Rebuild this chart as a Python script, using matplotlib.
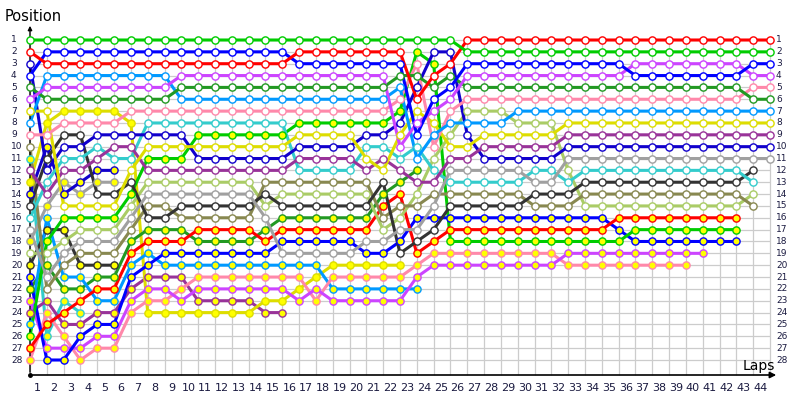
import matplotlib
matplotlib.use("Agg")
import matplotlib.pyplot as plt

# pixel geometry of the original chart
DX = 16.818   # px per lap
DY = 11.852   # px per position
X0, Y0 = 30, 40   # pixel of lap 0 / position 1

laps_total = 44
n_positions = 28

# colours
GREEN = '#00cc00'
RED = '#ff0000'
BLUE = '#0000ff'
VIOLET = '#cc44ff'
DKGREEN = '#229922'
LTBLUE = '#0099ff'
PINK = '#ff88aa'
YELLOW = '#dddd00'
PURPLE = '#993399'
DKBLUE = '#1100cc'
GREY = '#a0a0a0'
CYAN = '#33cccc'
DKGREY = '#333333'
OLIVE = '#888850'
LTGREEN = '#aacc66'

# positions per lap (lap 0 = grid), first class (white markers)
green_w = [1,1,1,1,1,1,1,1,1,1, 1,1,1,1,1,1,1,1,1,1, 1,1,1,1,1,1,2,2,2,2, 2,2,2,2,2,2,2,2,2,2, 2,2,2,2,2]
red_w = [2,3,3,3,3,3,3,3,3,3, 3,3,3,3,3,3,2,2,2,2, 2,2,2,6,4,3,1,1,1,1, 1,1,1,1,1,1,1,1,1,1, 1,1,1,1,1]
blue_w = [4,2,2,2,2,2,2,2,2,2, 2,2,2,2,2,2,3,3,3,3, 3,3,3,9,6,5,3,3,3,3, 3,3,3,3,3,3,4,4,4,4, 4,4,4,3,3]
violet_w = [6,5,5,5,5,5,5,5,5,4, 4,4,4,4,4,4,4,4,4,4, 4,4,10,8,7,6,4,4,4,4, 4,4,4,4,4,4,3,3,3,3, 3,3,3,4,4]
dkgreen_w = [5,6,6,6,6,6,6,6,6,5, 5,5,5,5,5,5,5,5,5,5, 5,5,4,4,5,4,5,5,5,5, 5,5,5,5,5,5,5,5,5,5, 5,5,5,6,6]
ltblue_w = [8,4,4,4,4,4,4,4,4,6, 6,6,6,6,6,6,6,6,6,6, 6,6,5,11,9,8,8,8,8,7, 7,7,7,7,7,7,7,7,7,7, 7,7,7,7,7]
pink_w = [9,9,8,8,8,8,7,7,7,7, 7,7,7,7,7,7,7,7,7,7, 7,7,6,3,10,7,6,6,6,6, 6,6,6,6,6,6,6,6,6,6, 6,6,6,5,5]
yellow_w = [7,7,15,15,15,15,12,10,10,10, 10,10,10,10,10,10,9,9,9,9, 11,12,9,7,8,10,10,9,9,9, 9,9,8,8,8,8,8,8,8,8, 8,8,8,8,8]
purple_w = [12,14,12,12,11,10,10,12,12,12, 12,12,12,12,12,12,11,11,11,11, 12,11,12,13,13,11,11,10,10,10, 10,10,9,9,9,9,9,9,9,9, 9,9,9,9,9]
dkblue_w = [3,12,10,10,9,9,9,9,9,9, 11,11,11,11,11,11,10,10,10,10, 9,9,8,5,2,2,9,11,11,11, 11,11,10,10,10,10,10,10,10,10, 10,10,10,10,10]
grey_w = [17,21,19,18,18,18,16,14,14,14, 14,14,14,14,16,19,19,19,19,19, 18,18,17,17,15,12,12,12,12,12, 13,13,11,11,11,11,11,11,11,11, 11,11,11,11,11]
cyan_w = [16,13,11,11,10,11,11,8,8,8, 8,8,8,8,8,8,12,12,12,12, 10,10,11,10,12,13,13,13,13,13, 12,12,13,12,12,12,12,12,12,12, 12,12,12,13]
dkgrey_w = [15,11,9,9,14,14,13,16,16,15, 15,15,15,15,14,15,15,15,15,15, 15,13,19,18,17,15,15,15,15,15, 14,14,14,13,13,13,13,13,13,13, 13,13,13,12]
olive_w = [10,22,20,19,19,19,17,15,15,16, 16,16,16,16,13,13,13,13,13,13, 13,16,15,15,14,14,14,14,14,14, 15,15,15,14,14,14,14,14,14,14, 14,14,14,15]
ltgreen_w = [19,19,18,17,17,17,15,13,13,13, 13,13,13,13,15,14,14,14,14,14, 14,17,16,14,11,9,7,7,7,8, 8,8,12,15,15,15,15,15,15,15, 15,15,15,14]

# second class (yellow markers)
green_y = [26,18,16,16,16,16,14,11,11,11, 9,9,9,9,9,9,8,8,8,8, 8,8,7,2,3,18,18,18,18,18, 18,18,18,18,18,18,17,17,17,17, 17,17,17]
red_y = [27,25,24,23,22,22,19,18,18,18, 17,17,17,17,18,17,17,17,17,17, 17,15,14,19,18,17,17,17,17,17, 17,17,17,17,17,16,16,16,16,16, 16,16,16]
blue_y = [21,28,28,26,25,25,21,20,19,19, 19,19,19,19,19,18,18,18,18,18, 19,19,18,16,16,16,16,16,16,16, 16,16,16,16,16,17,18,18,18,18, 18,18,18]
violet_y = [23,27,27,27,26,26,23,22,22,23, 22,22,22,22,22,22,23,22,23,23, 23,23,23,21,20,20,20,20,20,20, 20,20,19,19,19,19,19,19,19,19, 19]
pink_y = [28,24,26,28,27,27,24,23,23,22, 21,21,21,21,21,21,21,23,21,21, 21,21,21,20,19,19,19,19,19,19, 19,19,20,20,20,20,20,20,20,20]
ltblue_y = [25,16,21,21,23,23,20,19,20,20, 20,20,20,20,20,20,20,20,22,22, 22,22,22,22]
dkgreen_y = [22,20,22,22,21,21,18,17,17,17, 18,18,18,18,17,16,16,16,16,16, 16,14,13,12]
yellow_y = [13,8,7,7,7,7,8,24,24,24, 24,24,24,24,23,23,22,21,20,20, 20,20,20]
purple_y = [24,23,25,25,24,24,22,21,21,21, 23,23,23,23,24,24]
dkblue_y = [14,10,14,13,12,12]
grey_y = [18,15,13,14,13,13]
dkgrey_y = [20,17,17,20,20,20]
cyan_y = [11,26,23,24]

drivers = [
    (cyan_y, CYAN, 'y'), (dkgrey_y, DKGREY, 'y'), (grey_y, GREY, 'y'),
    (dkblue_y, DKBLUE, 'y'), (purple_y, PURPLE, 'y'), (yellow_y, YELLOW, 'y'),
    (dkgreen_y, DKGREEN, 'y'), (ltblue_y, LTBLUE, 'y'), (pink_y, PINK, 'y'),
    (violet_y, VIOLET, 'y'), (blue_y, BLUE, 'y'), (red_y, RED, 'y'),
    (green_y, GREEN, 'y'),
    (ltgreen_w, LTGREEN, 'w'), (olive_w, OLIVE, 'w'), (dkgrey_w, DKGREY, 'w'),
    (cyan_w, CYAN, 'w'), (grey_w, GREY, 'w'), (dkblue_w, DKBLUE, 'w'),
    (purple_w, PURPLE, 'w'), (yellow_w, YELLOW, 'w'), (pink_w, PINK, 'w'),
    (ltblue_w, LTBLUE, 'w'), (dkgreen_w, DKGREEN, 'w'), (violet_w, VIOLET, 'w'),
    (blue_w, BLUE, 'w'), (red_w, RED, 'w'), (green_w, GREEN, 'w'),
]


def lap_at(px):
    return (px - X0) / DX


def pos_at(py):
    return 1 + (py - Y0) / DY


fig = plt.figure(figsize=(8, 4), dpi=100)
ax = fig.add_axes([0, 0, 1, 1])
ax.set_xlim(lap_at(0), lap_at(800))
ax.set_ylim(pos_at(400), pos_at(0))
ax.axis('off')

axis_pos = pos_at(375)

# grid
ax.hlines(range(1, n_positions + 1), 0, laps_total, color='#cccccc', lw=0.9, zorder=0)
ax.vlines(range(0, laps_total + 1), 1, axis_pos, color='#cccccc', lw=0.9, zorder=0)

# axes with arrows
ax.annotate('', xy=(lap_at(779), axis_pos), xytext=(0, axis_pos),
            arrowprops=dict(arrowstyle='-|>', color='black', lw=1.2, mutation_scale=9))
ax.annotate('', xy=(0, pos_at(23)), xytext=(0, axis_pos),
            arrowprops=dict(arrowstyle='-|>', color='black', lw=1.0, mutation_scale=6))
ax.plot([0], [axis_pos], 'o', color='black', ms=2.5)

for data, col, cls in drivers:
    face = 'white' if cls == 'w' else '#ffff00'
    ax.plot(range(len(data)), data, '-', color=col, lw=2.2,
            solid_capstyle='round', zorder=2)
    ax.plot(range(len(data)), data, 'o', color=col, mfc=face, mec=col,
            ms=5.2, mew=1.0, zorder=3)

# labels
lab_col = '#1a1a40'
for p in range(1, n_positions + 1):
    ax.text(lap_at(11), p, str(p), fontsize=6.5, color=lab_col, ha='left', va='center')
    ax.text(lap_at(776), p, str(p), fontsize=6.5, color=lab_col, ha='left', va='center')
for n in range(1, laps_total + 1):
    ax.text(n - 0.58, pos_at(388), str(n), fontsize=8, color=lab_col,
            ha='center', va='center')

ax.text(lap_at(5), pos_at(21), 'Position', fontsize=10.5, color='black',
        ha='left', va='baseline')
ax.text(lap_at(743), pos_at(370), 'Laps', fontsize=10, color='black',
        ha='left', va='baseline')

fig.savefig('out.png', dpi=100)
